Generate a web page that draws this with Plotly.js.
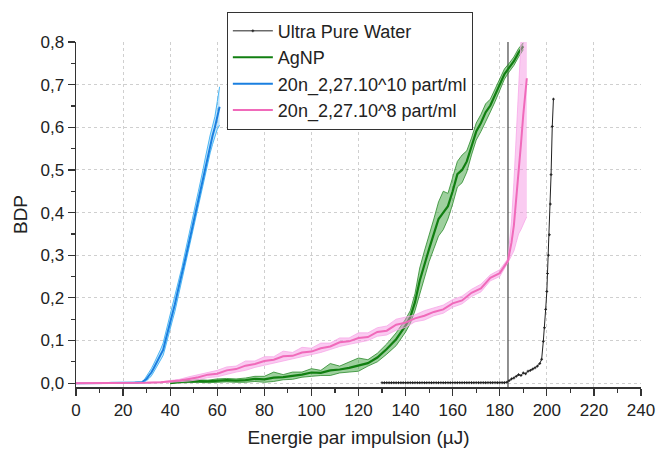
<!DOCTYPE html>
<html>
<head>
<meta charset="utf-8">
<script src="https://cdn.plot.ly/plotly-3.0.1.min.js"></script>
<style>html,body{margin:0;padding:0;background:#fff;}#chart{width:659px;height:454px;}</style>
</head>
<body>
<div id="chart"></div>
<script>
// ---- Data ----
const seriesNames = ["Ultra Pure Water", "AgNP", "20n_2,27.10^10 part/ml", "20n_2,27.10^8 part/ml"];

// Ultra Pure Water
const waterX = [130,131,132,133,134,135,136,137,138,139,140,141,142,143,144,145,146,147,148,149,150,151,152,153,154,155,156,157,158,159,160,161,162,163,164,165,166,167,168,169,170,171,172,173,174,175,176,177,178,179,180,181,182,183,
  184,185,186,187,188,189,190,191,192,193,194,195,196,197,197.8,198.5,199,199.5,200,200.3,200.7,201.1,201.5,201.8,202.3,202.8];
const waterY = [0.001,0.001,0.001,0.001,0.001,0.001,0.001,0.001,0.001,0.001,0.001,0.001,0.001,0.001,0.001,0.001,0.001,0.001,0.001,0.001,0.001,0.001,0.001,0.001,0.001,0.001,0.001,0.001,0.001,0.001,0.001,0.001,0.001,0.001,0.001,0.001,0.001,0.001,0.001,0.001,0.001,0.001,0.001,0.001,0.001,0.001,0.001,0.001,0.001,0.001,0.001,0.001,0.001,0.002,
  0.006,0.01,0.012,0.016,0.02,0.018,0.024,0.022,0.028,0.03,0.033,0.036,0.04,0.046,0.056,0.098,0.13,0.173,0.215,0.257,0.3,0.348,0.42,0.489,0.602,0.666];

// Vertical marker line
const vlineX = [183.5, 183.5];
const vlineY = [-0.01, 0.8];

// AgNP
const agX = [40,44,48,52,56,60,64,68,72,76,80,84,88,92,96,100,104,108,112,116,120,124,128,132,136,140,142,144,146,148,150,152,154,156,158,160,162,164,166,168,170,172,174,176,178,180,182,184,186,188,190];
const agY = [0.000,0.003,0.004,0.005,0.004,0.006,0.007,0.006,0.007,0.010,0.009,0.013,0.014,0.017,0.020,0.025,0.024,0.030,0.032,0.036,0.041,0.047,0.060,0.080,0.103,0.135,0.155,0.190,0.240,0.280,0.315,0.350,0.385,0.400,0.415,0.450,0.490,0.500,0.520,0.555,0.590,0.610,0.635,0.651,0.675,0.700,0.725,0.740,0.755,0.775,0.790];
const agHi = [0.001,0.005,0.006,0.008,0.007,0.010,0.011,0.010,0.012,0.016,0.016,0.026,0.020,0.026,0.026,0.034,0.030,0.046,0.040,0.050,0.059,0.055,0.070,0.092,0.118,0.150,0.170,0.210,0.270,0.310,0.345,0.385,0.425,0.450,0.445,0.480,0.520,0.535,0.545,0.575,0.610,0.630,0.655,0.666,0.690,0.715,0.737,0.750,0.765,0.785,0.798];
const agLo = [0.000,0.001,0.002,0.002,0.001,0.002,0.003,0.002,0.002,0.004,0.002,0.004,0.008,0.009,0.014,0.016,0.018,0.018,0.024,0.026,0.028,0.040,0.050,0.068,0.088,0.120,0.140,0.170,0.210,0.250,0.285,0.315,0.345,0.360,0.385,0.420,0.460,0.470,0.495,0.535,0.570,0.590,0.615,0.636,0.660,0.685,0.713,0.730,0.745,0.765,0.782];

// 20n_2,27.10^10 part/ml
const b10X = [0,5,10,15,20,25,28,29,30,31,32,33,34,35,36,37,38,39,40,41,42,43,44,45,46,47,48,49,50,51,52,53,54,55,56,57,58,59,60,61];
const b10Y = [0,0,0,0.001,0.001,0.001,0.002,0.005,0.010,0.018,0.025,0.035,0.045,0.055,0.065,0.078,0.100,0.120,0.140,0.165,0.185,0.210,0.232,0.255,0.280,0.305,0.330,0.355,0.380,0.405,0.430,0.460,0.485,0.510,0.535,0.560,0.580,0.600,0.625,0.648];
const b10Hi = [0,0,0,0.002,0.002,0.002,0.003,0.008,0.016,0.026,0.034,0.045,0.056,0.068,0.080,0.094,0.116,0.138,0.158,0.182,0.203,0.228,0.250,0.272,0.298,0.325,0.348,0.374,0.398,0.425,0.450,0.480,0.502,0.530,0.558,0.582,0.603,0.625,0.660,0.695];
const b10Lo = [0,0,0,0,0,0,0.001,0.003,0.006,0.011,0.017,0.026,0.035,0.044,0.053,0.065,0.085,0.104,0.124,0.148,0.168,0.193,0.214,0.238,0.262,0.287,0.312,0.337,0.362,0.388,0.412,0.442,0.466,0.490,0.515,0.540,0.560,0.578,0.595,0.605];

// 20n_2,27.10^8 part/ml
const b8X = [0,10,20,30,36,40,44,48,52,56,60,64,68,72,76,80,84,88,92,96,100,104,108,112,116,120,124,128,132,136,140,144,148,152,156,160,164,168,172,176,180,183.5,185,186,187,188,189,190,191,191.5];
const b8Y = [0.000,0.000,0.001,0.001,0.002,0.004,0.006,0.010,0.014,0.020,0.022,0.030,0.033,0.041,0.045,0.052,0.055,0.063,0.064,0.072,0.074,0.082,0.086,0.096,0.098,0.106,0.108,0.120,0.123,0.137,0.142,0.152,0.158,0.167,0.173,0.187,0.194,0.212,0.222,0.247,0.258,0.287,0.330,0.370,0.430,0.500,0.560,0.630,0.700,0.715];
const b8Hi = [0.001,0.001,0.002,0.002,0.003,0.006,0.009,0.015,0.020,0.026,0.030,0.038,0.040,0.052,0.052,0.062,0.062,0.075,0.072,0.084,0.082,0.094,0.094,0.106,0.106,0.118,0.118,0.130,0.134,0.150,0.155,0.160,0.170,0.176,0.183,0.196,0.204,0.220,0.232,0.254,0.266,0.292,0.380,0.470,0.580,0.700,0.800,0.830,0.860,0.870];
const b8Lo = [0.000,0.000,0.000,0.000,0.001,0.002,0.003,0.005,0.008,0.013,0.015,0.021,0.026,0.030,0.037,0.042,0.047,0.052,0.056,0.062,0.066,0.072,0.079,0.086,0.091,0.096,0.100,0.110,0.113,0.124,0.131,0.144,0.148,0.158,0.164,0.178,0.186,0.203,0.214,0.240,0.250,0.283,0.300,0.310,0.330,0.350,0.360,0.375,0.385,0.390];

// Tick values
const xTicks = [0,20,40,60,80,100,120,140,160,180,200,220,240];
const yTicks = [0,0.1,0.2,0.3,0.4,0.5,0.6,0.7,0.8];

// ---- Traces ----
const traces = [
  {x: waterX, y: waterY, name: seriesNames[0], mode: 'lines+markers', type: 'scatter',
   line: {color: '#222222', width: 1}, marker: {color: '#222222', size: 2, symbol: 'cross-thin', line: {color: '#222222', width: 1}}},
  {x: vlineX, y: vlineY, mode: 'lines', showlegend: false, hoverinfo: 'skip', line: {color: '#222222', width: 1}},
  {x: agX, y: agLo, mode: 'lines', showlegend: false, line: {color: '#2a8a2a', width: 0.8}},
  {x: agX, y: agHi, mode: 'lines', showlegend: false, fill: 'tonexty', fillcolor: 'rgba(40,150,40,0.45)', line: {color: '#2a8a2a', width: 0.8}},
  {x: agX, y: agY, name: seriesNames[1], mode: 'lines', line: {color: '#117f11', width: 2.2}},
  {x: b10X, y: b10Lo, mode: 'lines', showlegend: false, line: {color: '#4db8f5', width: 1}},
  {x: b10X, y: b10Hi, mode: 'lines', showlegend: false, fill: 'tonexty', fillcolor: 'rgba(80,180,245,0.35)', line: {color: '#4db8f5', width: 1}},
  {x: b10X, y: b10Y, name: seriesNames[2], mode: 'lines', line: {color: '#1a7fe0', width: 2}},
  {x: b8X, y: b8Lo, mode: 'lines', showlegend: false, line: {color: '#f7a8e8', width: 0.8}},
  {x: b8X, y: b8Hi, mode: 'lines', showlegend: false, fill: 'tonexty', fillcolor: 'rgba(245,140,225,0.45)', line: {color: '#f7a8e8', width: 0.8}},
  {x: b8X, y: b8Y, name: seriesNames[3], mode: 'lines', line: {color: '#f06aba', width: 2}}
];

const font = 'Liberation Sans, Arial, sans-serif';
const layout = {
  width: 659, height: 454,
  margin: {l: 76, r: 18, t: 30, b: 67},
  paper_bgcolor: '#ffffff', plot_bgcolor: '#ffffff',
  separators: ', ',
  font: {family: font, size: 17, color: '#222222'},
  showlegend: true,
  legend: {x: 0.267, y: 1.088, xanchor: 'left', yanchor: 'top', bgcolor: '#ffffff', bordercolor: '#333333', borderwidth: 1,
           font: {family: font, size: 18, color: '#222222'}, tracegroupgap: 0, itemwidth: 40, traceorder: 'normal'},
  xaxis: {range: [0, 240], tickvals: xTicks, ticks: 'outside', ticklen: 7, tickwidth: 1.2, tickcolor: '#333',
          showline: true, linecolor: '#333', linewidth: 1.5, zeroline: false,
          showgrid: true, gridcolor: '#cfcfcf', griddash: 'dot', gridwidth: 1,
          minor: {ticks: 'outside', ticklen: 4, dtick: 10, tickcolor: '#333', showgrid: false},
          title: {text: 'Energie par impulsion (µJ)', font: {family: font, size: 19}, standoff: 12}},
  yaxis: {range: [-0.009, 0.8], tickvals: yTicks, tickformat: '.1f', ticks: 'outside', ticklen: 7, tickwidth: 1.2, tickcolor: '#333',
          showline: true, linecolor: '#333', linewidth: 1.5, zeroline: false,
          showgrid: true, gridcolor: '#cfcfcf', griddash: 'dot', gridwidth: 1,
          minor: {ticks: 'outside', ticklen: 4, dtick: 0.05, tick0: 0, tickcolor: '#333', showgrid: false},
          title: {text: 'BDP', font: {family: font, size: 19}, standoff: 8}}
};

Plotly.newPlot('chart', traces, layout, {displayModeBar: false, staticPlot: true});
</script>
</body>
</html>
